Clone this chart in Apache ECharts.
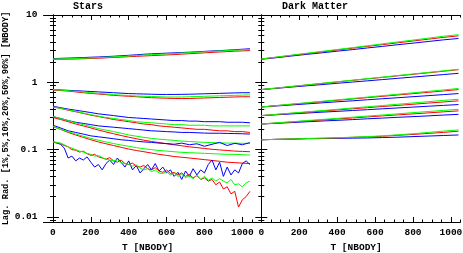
<!DOCTYPE html>
<html><head><meta charset="utf-8">
<script src="https://cdn.jsdelivr.net/npm/echarts@6/dist/echarts.min.js"></script>
<style>html,body{margin:0;padding:0;background:#fff}#c{width:463px;height:253px}</style>
</head><body><div id="c"></div>
<script>
// ---- tick labels ----
const xMajor = [0, 200, 400, 600, 800, 1000];
const xMinor = [50,100,150,250,300,350,450,500,550,650,700,750,850,900,950,1050];
const yMajor = [0.01, 0.1, 1, 10];
const yMinor = [0.009,0.02,0.03,0.04,0.05,0.06,0.07,0.08,0.09,0.2,0.3,0.4,0.5,0.6,0.7,0.8,0.9,2,3,4,5,6,7,8,9];
const panelTitles = ['Stars', 'Dark Matter'];

// ---- times ----
const tStep40 = []; for (let t = 0; t <= 1040; t += 40) tStep40.push(t);
const tStep20 = []; for (let t = 0; t <= 1040; t += 20) tStep20.push(t);
const tStep80 = []; for (let t = 0; t <= 1040; t += 80) tStep80.push(t);

// ---- Stars (t step 40) ----
const s90b = [2.25,2.27,2.29,2.31,2.33,2.36,2.38,2.41,2.44,2.48,2.52,2.56,2.61,2.65,2.68,2.71,2.74,2.77,2.80,2.84,2.88,2.92,2.96,3.0,3.05,3.1,3.15];
const s90r = [2.2,2.2,2.21,2.22,2.24,2.26,2.28,2.31,2.34,2.37,2.40,2.43,2.46,2.49,2.52,2.55,2.58,2.62,2.66,2.70,2.74,2.78,2.82,2.86,2.9,2.93,2.96];
const s90g = [2.22,2.23,2.24,2.26,2.28,2.30,2.33,2.36,2.39,2.42,2.46,2.50,2.54,2.58,2.61,2.64,2.68,2.72,2.76,2.80,2.84,2.88,2.92,2.96,3.0,3.04,3.08];
const s50b = [0.78,0.77,0.76,0.75,0.74,0.73,0.72,0.71,0.70,0.69,0.68,0.675,0.67,0.665,0.66,0.66,0.66,0.662,0.665,0.67,0.675,0.68,0.685,0.69,0.695,0.70,0.70];
const s50r = [0.77,0.755,0.74,0.72,0.70,0.685,0.67,0.655,0.64,0.63,0.62,0.61,0.60,0.59,0.585,0.58,0.575,0.575,0.575,0.58,0.585,0.59,0.595,0.60,0.605,0.61,0.61];
const s50g = [0.78,0.765,0.75,0.735,0.72,0.70,0.685,0.67,0.655,0.645,0.635,0.625,0.62,0.615,0.61,0.605,0.605,0.605,0.61,0.615,0.62,0.625,0.63,0.635,0.64,0.645,0.65];
const s20b = [0.44,0.42,0.40,0.385,0.37,0.355,0.34,0.33,0.32,0.31,0.30,0.295,0.29,0.285,0.28,0.275,0.27,0.27,0.265,0.265,0.26,0.26,0.26,0.255,0.255,0.255,0.25];
const s20r = [0.43,0.41,0.385,0.365,0.345,0.325,0.31,0.295,0.28,0.27,0.26,0.25,0.24,0.235,0.225,0.22,0.215,0.21,0.205,0.20,0.2,0.195,0.19,0.19,0.185,0.185,0.18];
const s20g = [0.43,0.41,0.39,0.37,0.35,0.33,0.315,0.30,0.29,0.28,0.27,0.26,0.255,0.25,0.245,0.24,0.235,0.235,0.23,0.23,0.23,0.225,0.225,0.225,0.225,0.225,0.225];
const s10b = [0.31,0.29,0.27,0.255,0.245,0.235,0.225,0.22,0.215,0.21,0.205,0.20,0.195,0.19,0.188,0.185,0.183,0.18,0.18,0.178,0.176,0.175,0.175,0.174,0.173,0.172,0.17];
const s10r = [0.30,0.28,0.26,0.24,0.225,0.21,0.195,0.183,0.172,0.162,0.153,0.145,0.138,0.132,0.127,0.122,0.118,0.114,0.11,0.107,0.104,0.101,0.099,0.097,0.095,0.094,0.093];
const s10g = [0.31,0.29,0.27,0.25,0.235,0.22,0.205,0.195,0.185,0.175,0.165,0.158,0.152,0.147,0.143,0.14,0.137,0.134,0.132,0.13,0.128,0.127,0.126,0.125,0.125,0.124,0.124];
const s05b = [0.23,0.21,0.19,0.18,0.17,0.16,0.155,0.15,0.145,0.14,0.137,0.133,0.13,0.128,0.125,0.123,0.12,0.125,0.118,0.122,0.112,0.12,0.128,0.115,0.124,0.118,0.127];
const s05r = [0.22,0.2,0.18,0.165,0.152,0.14,0.13,0.122,0.115,0.108,0.102,0.097,0.093,0.089,0.085,0.082,0.079,0.077,0.075,0.073,0.071,0.069,0.067,0.065,0.064,0.063,0.062];
const s05g = [0.22,0.2,0.185,0.17,0.158,0.147,0.138,0.13,0.123,0.117,0.112,0.107,0.103,0.1,0.097,0.095,0.093,0.091,0.09,0.089,0.088,0.087,0.086,0.085,0.085,0.084,0.083];
// 1% (t step 20)
const s01b = [0.13,0.125,0.12,0.105,0.075,0.08,0.068,0.075,0.07,0.078,0.065,0.055,0.06,0.05,0.062,0.07,0.06,0.075,0.065,0.055,0.068,0.05,0.058,0.045,0.052,0.06,0.05,0.062,0.048,0.055,0.045,0.05,0.04,0.046,0.036,0.048,0.04,0.052,0.042,0.05,0.045,0.06,0.07,0.05,0.065,0.04,0.055,0.042,0.05,0.045,0.062,0.068,0.06];
const s01r = [0.13,0.127,0.122,0.115,0.11,0.1,0.098,0.092,0.095,0.087,0.082,0.085,0.078,0.075,0.072,0.076,0.068,0.065,0.07,0.062,0.06,0.063,0.057,0.055,0.058,0.052,0.05,0.054,0.048,0.046,0.05,0.044,0.046,0.042,0.045,0.04,0.043,0.038,0.041,0.036,0.038,0.034,0.036,0.03,0.033,0.026,0.028,0.022,0.024,0.014,0.018,0.02,0.024];
const s01g = [0.13,0.128,0.125,0.118,0.11,0.105,0.1,0.095,0.092,0.088,0.085,0.08,0.082,0.076,0.072,0.07,0.068,0.071,0.064,0.062,0.06,0.057,0.059,0.053,0.05,0.052,0.047,0.05,0.045,0.044,0.047,0.042,0.045,0.04,0.043,0.038,0.041,0.037,0.042,0.036,0.04,0.035,0.038,0.034,0.037,0.034,0.032,0.036,0.03,0.031,0.028,0.032,0.034];

// ---- Dark matter (t step 80) ----
const d90b = [2.2,2.32,2.46,2.6,2.74,2.9,3.06,3.24,3.42,3.62,3.82,4.04,4.27,4.48];
const d90r = [2.22,2.36,2.51,2.67,2.84,3.02,3.21,3.42,3.63,3.86,4.11,4.37,4.65,4.9];
const d90g = [2.22,2.37,2.53,2.7,2.88,3.07,3.27,3.49,3.73,3.98,4.24,4.53,4.83,5.1];
const d50b = [0.78,0.814,0.85,0.887,0.925,0.966,1.008,1.052,1.098,1.146,1.196,1.248,1.302,1.36];
const d50r = [0.78,0.82,0.865,0.912,0.961,1.012,1.067,1.124,1.184,1.248,1.315,1.385,1.46,1.54];
const d50g = [0.78,0.823,0.868,0.915,0.966,1.019,1.074,1.133,1.195,1.261,1.33,1.403,1.48,1.56];
const d20b = [0.43,0.445,0.461,0.478,0.495,0.513,0.531,0.55,0.57,0.59,0.611,0.633,0.656,0.68];
const d20r = [0.43,0.45,0.471,0.493,0.516,0.54,0.565,0.592,0.619,0.648,0.678,0.71,0.743,0.78];
const d20g = [0.43,0.451,0.474,0.497,0.522,0.548,0.575,0.604,0.634,0.665,0.698,0.733,0.77,0.81];
const d10b = [0.32,0.329,0.339,0.349,0.36,0.37,0.381,0.392,0.404,0.416,0.428,0.441,0.454,0.467];
const d10r = [0.32,0.333,0.346,0.36,0.374,0.389,0.404,0.42,0.437,0.454,0.472,0.491,0.51,0.53];
const d10g = [0.32,0.334,0.349,0.364,0.38,0.397,0.415,0.433,0.452,0.472,0.493,0.515,0.538,0.56];
const d05b = [0.24,0.246,0.252,0.259,0.266,0.272,0.279,0.287,0.294,0.302,0.309,0.317,0.326,0.334];
const d05r = [0.24,0.248,0.257,0.266,0.276,0.285,0.295,0.306,0.317,0.328,0.339,0.351,0.364,0.376];
const d05g = [0.24,0.25,0.259,0.27,0.28,0.291,0.303,0.315,0.327,0.34,0.354,0.368,0.382,0.397];
const d01b = [0.14,0.142,0.143,0.145,0.146,0.147,0.148,0.149,0.151,0.153,0.156,0.159,0.162,0.165];
const d01r = [0.14,0.142,0.144,0.146,0.147,0.149,0.152,0.155,0.158,0.163,0.168,0.174,0.18,0.188];
const d01g = [0.14,0.142,0.144,0.146,0.148,0.15,0.153,0.156,0.16,0.166,0.172,0.18,0.188,0.196];

const BLUE = '#0000ff', RED = '#ff0000', GREEN = '#00ff00';
const FONT = '"Liberation Mono", "DejaVu Sans Mono", monospace';
const FW = 'bold';

const starSets = [
  [tStep40, s90b, s90r, s90g], [tStep40, s50b, s50r, s50g], [tStep40, s20b, s20r, s20g],
  [tStep40, s10b, s10r, s10g], [tStep40, s05b, s05r, s05g], [tStep20, s01b, s01r, s01g]
];
const dmSets = [
  [tStep80, d90b, d90r, d90g], [tStep80, d50b, d50r, d50g], [tStep80, d20b, d20r, d20g],
  [tStep80, d10b, d10r, d10g], [tStep80, d05b, d05r, d05g], [tStep80, d01b, d01r, d01g]
];

function zip(ts, vs) { const n = Math.min(ts.length, vs.length); const o = []; for (let i = 0; i < n; i++) o.push([ts[i], vs[i]]); return o; }

const X_MIN = -50, X_MAX = 1050, Y_MIN = 0.0084, Y_MAX = 10;
const LABEL_MARGIN = 6, LABEL_SIZE = 9.5;
const grids = [
  { left: 43.5, top: 15, width: 208.3, height: 207 },
  { left: 251.8, top: 15, width: 208.6, height: 207 }
];

const xAxes = [], yAxes = [];
const labelStyle = { margin: LABEL_MARGIN, fontSize: LABEL_SIZE, fontFamily: FONT, fontWeight: FW, color: '#000', hideOverlap: false,
  showMinLabel: true, showMaxLabel: true, formatter: v => String(Math.round(v)) };
grids.forEach((g, gi) => {
  const lineStyle = { color: '#000', width: 1 };
  const base = { type: 'value', gridIndex: gi, min: X_MIN, max: X_MAX, splitLine: { show: false } };
  xAxes.push(Object.assign({}, base, {
    position: 'bottom', axisLine: { show: true, lineStyle },
    axisTick: { show: true, inside: true, length: 5, customValues: xMajor, lineStyle },
    axisLabel: Object.assign({ show: true, customValues: gi === 0 ? xMajor : xMajor.slice(1) }, labelStyle),
    name: 'T [NBODY]', nameLocation: 'middle', nameGap: 19,
    nameTextStyle: { fontSize: LABEL_SIZE, fontFamily: FONT, fontWeight: FW, color: '#000' }
  }));
  xAxes.push(Object.assign({}, base, {
    position: 'bottom', axisLine: { show: false },
    axisTick: { show: true, inside: true, length: 2.5, customValues: xMinor, lineStyle },
    axisLabel: { show: false }
  }));
  xAxes.push(Object.assign({}, base, {
    position: 'top', axisLine: { show: true, lineStyle },
    axisTick: { show: true, inside: true, length: 5, customValues: xMajor, lineStyle },
    axisLabel: { show: false }
  }));
  xAxes.push(Object.assign({}, base, {
    position: 'top', axisLine: { show: false },
    axisTick: { show: true, inside: true, length: 2.5, customValues: xMinor, lineStyle },
    axisLabel: { show: false }
  }));
  const ybase = { type: 'log', logBase: 10, gridIndex: gi, min: Y_MIN, max: Y_MAX, splitLine: { show: false }, minorTick: { show: false } };
  const yMain = Object.assign({}, ybase, {
    position: 'left', axisLine: { show: true, lineStyle },
    axisTick: { show: true, inside: true, length: 6, customValues: yMajor, lineStyle },
    axisLabel: { show: gi === 0, customValues: yMajor, margin: LABEL_MARGIN, fontSize: LABEL_SIZE, fontFamily: FONT, fontWeight: FW, color: '#000',
      showMinLabel: true, showMaxLabel: true, formatter: v => String(+Number(v).toPrecision(3)) }
  });
  if (gi === 0) {
    yMain.name = 'Lag. Rad. [1%,5%,10%,20%,50%,90%] [NBODY]';
    yMain.nameLocation = 'middle';
    yMain.nameGap = 32;
    yMain.nameTextStyle = { fontSize: 8.7, fontFamily: FONT, fontWeight: FW, color: '#000' };
  }
  yAxes.push(yMain);
  yAxes.push(Object.assign({}, ybase, {
    position: 'left', axisLine: { show: false },
    axisTick: { show: true, inside: true, length: 3, customValues: yMinor, lineStyle },
    axisLabel: { show: false }
  }));
  yAxes.push(Object.assign({}, ybase, {
    position: 'right', axisLine: { show: true, lineStyle },
    axisTick: { show: true, inside: true, length: 6, customValues: yMajor, lineStyle },
    axisLabel: { show: false }
  }));
  yAxes.push(Object.assign({}, ybase, {
    position: 'right', axisLine: { show: false },
    axisTick: { show: true, inside: true, length: 3, customValues: yMinor, lineStyle },
    axisLabel: { show: false }
  }));
});

const series = [];
[starSets, dmSets].forEach((sets, gi) => {
  sets.forEach(set => {
    const ts = set[0];
    [[set[1], BLUE], [set[2], RED], [set[3], GREEN]].forEach(([vals, col]) => {
      series.push({
        type: 'line', xAxisIndex: gi * 4, yAxisIndex: gi * 4, data: zip(ts, vals),
        showSymbol: false, symbol: 'none', silent: true, clip: true,
        lineStyle: { color: col, width: 1 }, itemStyle: { color: col }
      });
    });
  });
});

const chart = echarts.init(document.getElementById('c'), null, { renderer: 'canvas' });
const titleStyle = { fontSize: 10, fontWeight: FW, fontFamily: FONT, color: '#000' };
chart.setOption({
  animation: false,
  backgroundColor: '#fff',
  title: [
    { text: panelTitles[0], left: 73, top: 1, padding: 0, textStyle: titleStyle },
    { text: panelTitles[1], left: 282, top: 1, padding: 0, textStyle: titleStyle }
  ],
  grid: grids.map(g => Object.assign({ containLabel: false, outerBoundsMode: 'none' }, g)),
  xAxis: xAxes,
  yAxis: yAxes,
  series
});
// first tick label of the right panel (ECharts hides it next to the left panel's last label):
// placed at the axis's own pixel for that value
const p0 = chart.convertToPixel({ xAxisIndex: 4, yAxisIndex: 4 }, [xMajor[0], Y_MIN]);
chart.setOption({
  graphic: [{
    type: 'text', x: p0[0], y: p0[1] + LABEL_MARGIN, silent: true,
    style: { text: String(xMajor[0]), align: 'center', verticalAlign: 'top',
      font: FW + ' ' + LABEL_SIZE + 'px ' + FONT, fill: '#000' }
  }]
});
</script>
</body></html>
